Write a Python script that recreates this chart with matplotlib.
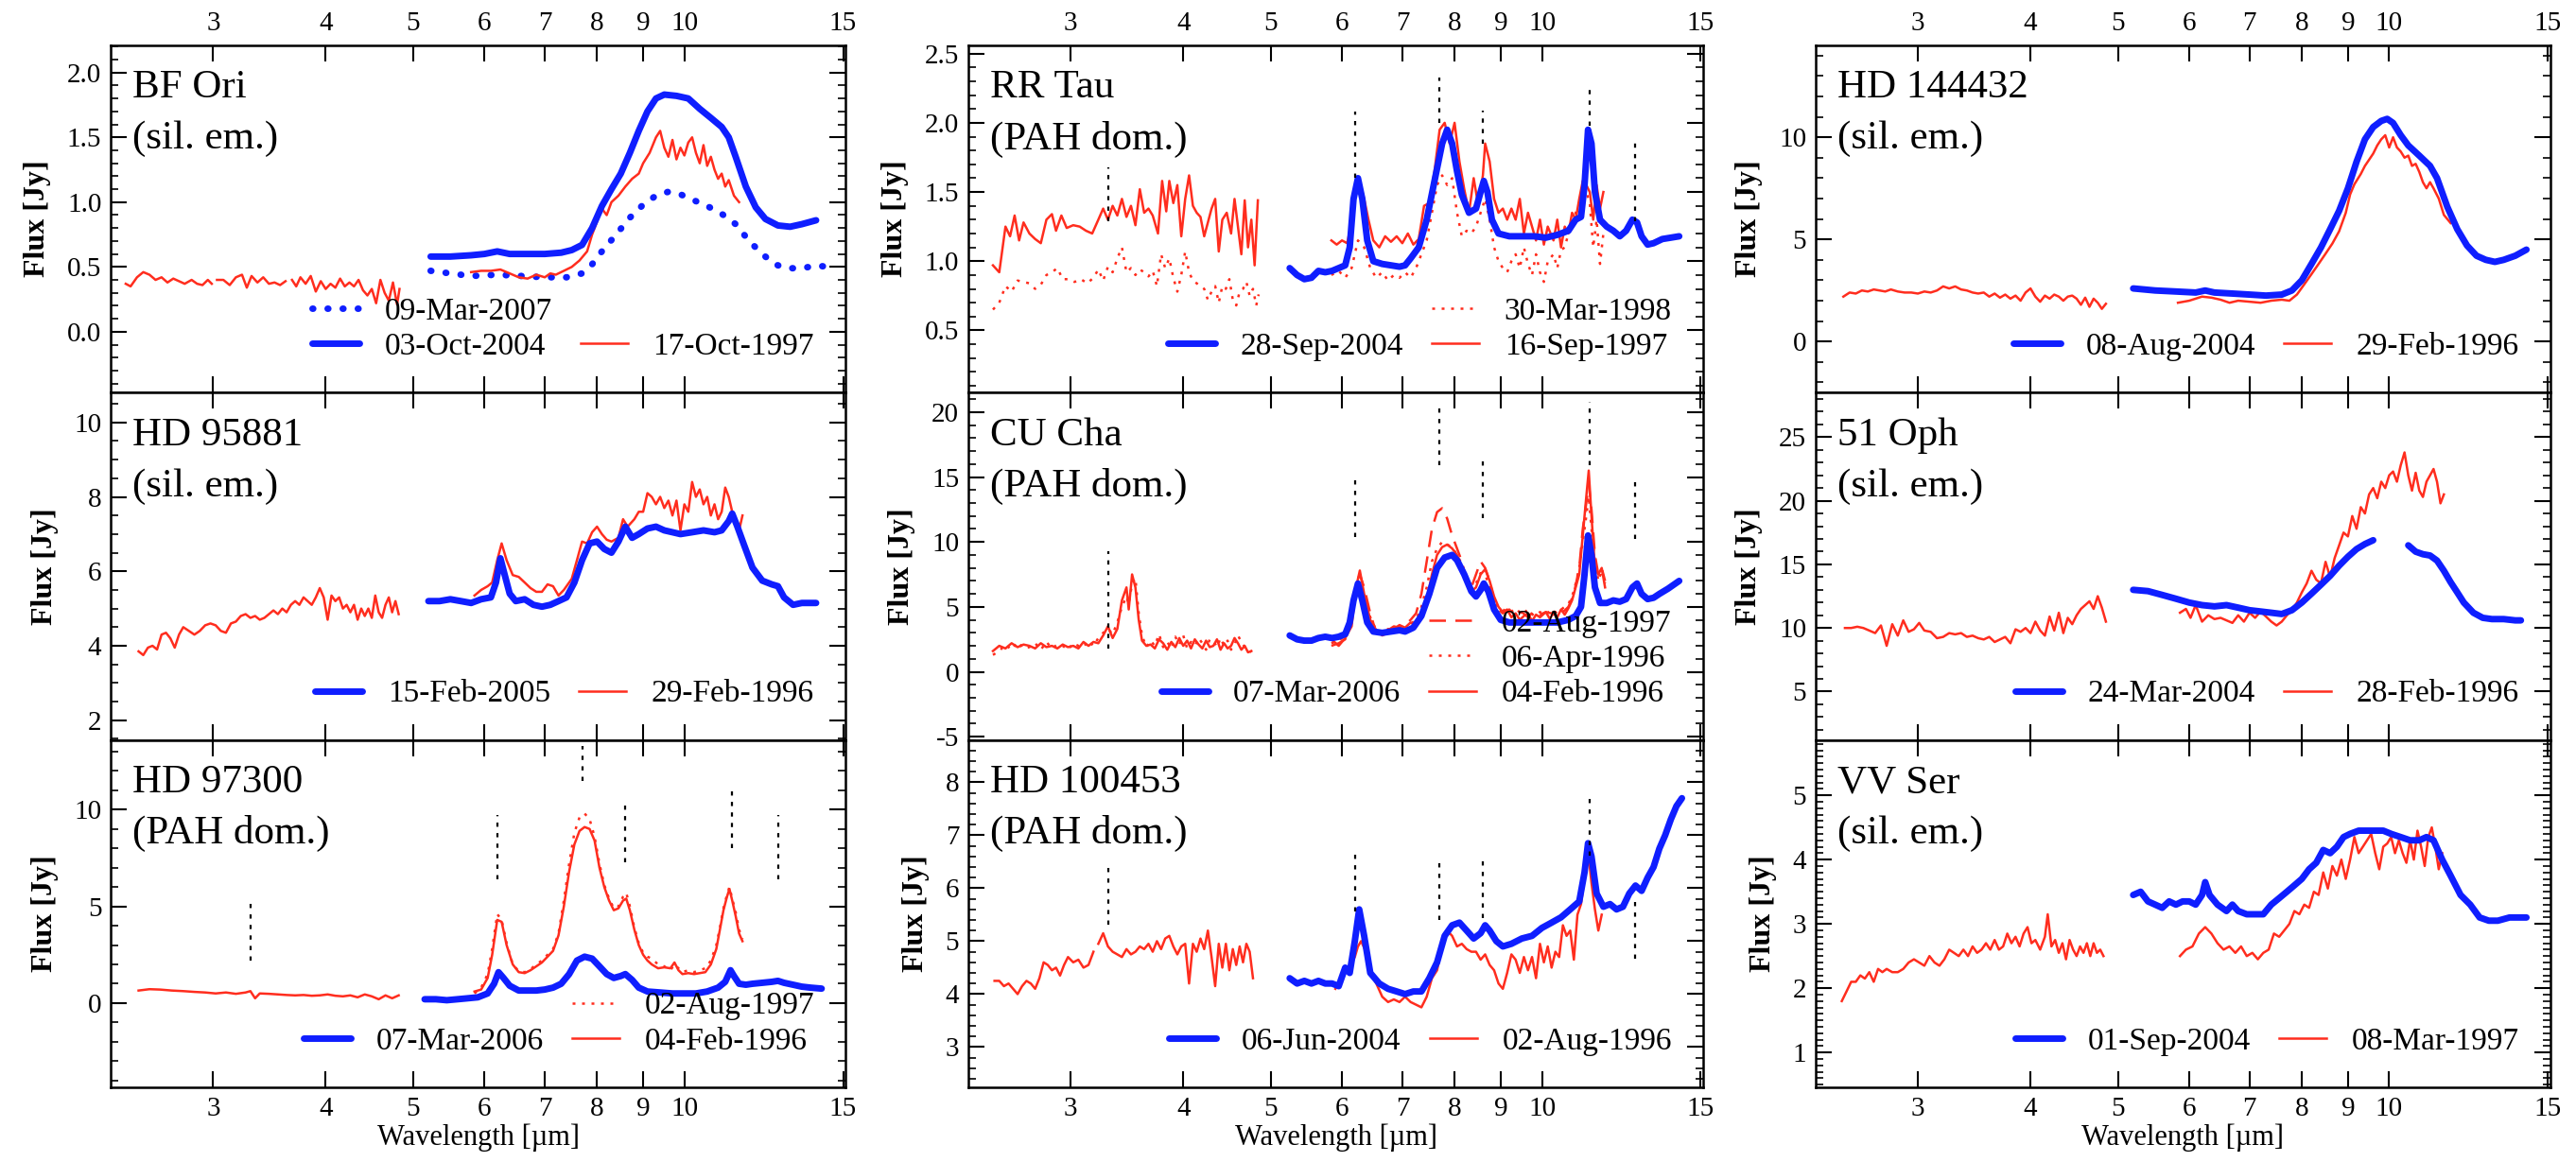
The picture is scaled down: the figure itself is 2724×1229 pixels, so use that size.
"""
Multi-epoch mid-IR spectra, nine targets in a 3x3 grid
"""
import numpy as np
import matplotlib
matplotlib.use('Agg')
import matplotlib.pyplot as plt
from matplotlib.lines import Line2D
from matplotlib.ticker import MultipleLocator, FixedLocator, NullLocator, FormatStrFormatter

plt.rcParams['font.family'] = ['Liberation Serif', 'DejaVu Serif']

nan = np.nan

# ---------------- data (wavelength [um], flux [Jy]) ----------------
x_ticks = [3, 4, 5, 6, 7, 8, 9, 10, 15]

# BF Ori
bfori_1997 = [(2.40, 0.37), (2.43, 0.35), (2.47, 0.42), (2.51, 0.46), (2.55, 0.44), (2.59, 0.40), (2.63, 0.42),
              (2.67, 0.38), (2.71, 0.41), (2.75, 0.39), (2.79, 0.37), (2.84, 0.40), (2.88, 0.37), (2.92, 0.36),
              (2.96, 0.40), (2.99, 0.37), (nan, nan), (3.03, 0.40), (3.08, 0.40), (3.13, 0.36), (3.18, 0.42),
              (3.23, 0.44), (3.27, 0.34), (3.31, 0.43), (3.36, 0.38), (3.41, 0.42), (3.46, 0.37), (3.51, 0.38),
              (3.56, 0.36), (3.61, 0.39), (nan, nan), (3.67, 0.40), (3.71, 0.35), (3.75, 0.42), (3.80, 0.37),
              (3.85, 0.43), (3.90, 0.31), (3.95, 0.39), (4.00, 0.33), (4.05, 0.37), (4.10, 0.34), (4.15, 0.41),
              (4.20, 0.35), (4.25, 0.38), (4.30, 0.35), (4.35, 0.40), (4.40, 0.32), (4.45, 0.28), (4.50, 0.33),
              (4.55, 0.22), (4.60, 0.40), (4.65, 0.30), (4.70, 0.24), (4.75, 0.38), (4.80, 0.21), (4.83, 0.33),
              (nan, nan), (5.80, 0.46), (5.95, 0.47), (6.10, 0.47), (6.25, 0.48), (6.40, 0.45), (6.55, 0.42),
              (6.70, 0.41), (6.85, 0.44), (7.00, 0.42), (7.10, 0.45), (7.20, 0.44), (7.35, 0.47), (7.50, 0.50),
              (7.65, 0.55), (7.80, 0.62), (7.90, 0.75), (8.00, 0.85), (8.10, 0.95), (8.20, 0.90), (8.30, 1.00),
              (8.45, 1.05), (8.60, 1.12), (8.75, 1.18), (8.90, 1.22), (9.00, 1.30), (9.15, 1.38), (9.30, 1.50),
              (9.40, 1.55), (9.50, 1.42), (9.60, 1.35), (9.70, 1.48), (9.80, 1.33), (9.90, 1.42), (10.0, 1.36),
              (10.1, 1.46), (10.2, 1.50), (10.3, 1.38), (10.4, 1.30), (10.5, 1.44), (10.6, 1.28), (10.7, 1.35),
              (10.8, 1.25), (10.9, 1.18), (11.0, 1.22), (11.1, 1.12), (11.2, 1.17), (11.35, 1.05), (11.5, 1.00)]
bfori_2004 = [(5.23, 0.58), (5.5, 0.58), (5.8, 0.59), (6.0, 0.60), (6.2, 0.62), (6.4, 0.60), (6.7, 0.60),
              (7.0, 0.60), (7.3, 0.61), (7.5, 0.63), (7.7, 0.67), (7.9, 0.80), (8.1, 0.97), (8.3, 1.10),
              (8.5, 1.22), (8.7, 1.38), (8.9, 1.55), (9.1, 1.70), (9.3, 1.80), (9.5, 1.83), (9.8, 1.82),
              (10.1, 1.80), (10.4, 1.72), (10.7, 1.65), (11.0, 1.58), (11.2, 1.50), (11.4, 1.35), (11.7, 1.12),
              (12.0, 0.96), (12.3, 0.87), (12.7, 0.82), (13.1, 0.81), (13.5, 0.83), (14.0, 0.86)]
bfori_2007 = [(5.23, 0.47), (5.5, 0.45), (5.8, 0.43), (6.2, 0.44), (6.6, 0.43), (7.0, 0.42), (7.4, 0.42),
              (7.7, 0.45), (7.9, 0.52), (8.1, 0.62), (8.4, 0.75), (8.7, 0.88), (9.0, 0.98), (9.3, 1.05),
              (9.6, 1.08), (9.9, 1.06), (10.2, 1.02), (10.6, 0.97), (11.0, 0.91), (11.4, 0.83), (11.8, 0.70),
              (12.2, 0.60), (12.6, 0.52), (13.0, 0.49), (13.5, 0.49), (14.0, 0.51), (14.5, 0.50)]

# RR Tau
rrtau_1997 = [(2.46, 0.97), (2.50, 0.92), (2.54, 1.25), (2.57, 1.18), (2.60, 1.33), (2.63, 1.15), (2.66, 1.28),
              (2.70, 1.20), (2.74, 1.16), (2.78, 1.13), (2.82, 1.30), (2.86, 1.34), (2.89, 1.22), (2.93, 1.33),
              (2.97, 1.24), (3.02, 1.26), (3.07, 1.25), (3.12, 1.22), (3.17, 1.20), (3.22, 1.30), (3.26, 1.38),
              (3.30, 1.30), (3.34, 1.40), (3.38, 1.33), (3.42, 1.45), (3.46, 1.32), (3.50, 1.40), (3.54, 1.26),
              (3.58, 1.52), (3.62, 1.35), (3.66, 1.38), (3.70, 1.33), (3.75, 1.20), (3.79, 1.58), (3.83, 1.36),
              (3.86, 1.58), (3.90, 1.42), (3.94, 1.55), (3.98, 1.18), (4.02, 1.45), (4.06, 1.62), (4.10, 1.40),
              (4.14, 1.35), (4.18, 1.32), (4.22, 1.18), (4.26, 1.28), (4.30, 1.38), (4.34, 1.45), (4.38, 1.07),
              (4.42, 1.30), (4.47, 1.35), (4.52, 1.20), (4.56, 1.45), (4.60, 1.25), (4.64, 1.05), (4.68, 1.44),
              (4.72, 1.10), (4.76, 1.30), (4.80, 0.97), (4.84, 1.44),
              (nan, nan), (5.84, 1.15), (5.92, 1.12), (6.0, 1.15), (6.08, 1.13), (6.15, 1.28), (6.22, 1.50),
              (6.28, 1.57), (6.35, 1.45), (6.42, 1.30), (6.5, 1.15), (6.6, 1.10), (6.7, 1.18), (6.8, 1.14),
              (6.9, 1.18), (7.0, 1.13), (7.1, 1.20), (7.2, 1.12), (7.3, 1.16), (7.4, 1.40), (7.5, 1.42),
              (7.6, 1.65), (7.7, 1.95), (7.8, 2.00), (7.9, 1.85), (8.0, 2.00), (8.1, 1.72), (8.2, 1.52),
              (8.3, 1.35), (8.4, 1.60), (8.5, 1.40), (8.6, 1.62), (8.65, 1.85), (8.75, 1.72), (8.85, 1.45),
              (8.95, 1.35), (9.05, 1.38), (9.15, 1.30), (9.25, 1.38), (9.35, 1.30), (9.45, 1.45), (9.55, 1.20),
              (9.65, 1.35), (9.75, 1.25), (9.85, 1.15), (9.95, 1.30), (10.05, 1.12), (10.15, 1.25), (10.3, 1.15),
              (10.4, 1.30), (10.5, 1.10), (10.6, 1.25), (10.7, 1.20), (10.8, 1.35), (10.9, 1.30), (11.0, 1.45),
              (11.1, 1.58), (11.2, 1.55), (11.3, 1.50), (11.4, 1.30), (11.5, 1.55), (11.6, 1.38), (11.7, 1.50)]
rrtau_1998 = [(2.46, 0.65), (2.50, 0.70), (2.54, 0.82), (2.58, 0.78), (2.62, 0.86), (2.66, 0.85), (2.70, 0.84),
              (2.74, 0.80), (2.78, 0.83), (2.82, 0.90), (2.86, 0.92), (2.90, 0.95), (2.94, 0.87), (2.98, 0.87),
              (3.03, 0.85), (3.08, 0.87), (3.13, 0.84), (3.18, 0.88), (3.22, 0.94), (3.26, 0.86), (3.30, 0.96),
              (3.34, 0.92), (3.38, 1.02), (3.42, 1.10), (3.46, 0.92), (3.50, 0.95), (3.54, 0.90), (3.58, 0.94),
              (3.62, 0.92), (3.66, 0.89), (3.70, 0.93), (3.74, 0.82), (3.78, 1.05), (3.82, 0.95), (3.86, 1.02),
              (3.90, 0.88), (3.94, 0.78), (3.98, 0.90), (4.02, 1.07), (4.06, 0.92), (4.10, 0.86), (4.14, 0.84),
              (4.18, 0.82), (4.22, 0.80), (4.26, 0.72), (4.30, 0.78), (4.34, 0.82), (4.38, 0.70), (4.42, 0.82),
              (4.46, 0.80), (4.50, 0.87), (4.54, 0.72), (4.58, 0.68), (4.62, 0.78), (4.66, 0.80), (4.70, 0.85),
              (4.74, 0.75), (4.78, 0.80), (4.82, 0.68), (4.85, 0.76),
              (nan, nan), (5.84, 0.90), (5.95, 0.93), (6.05, 0.88), (6.15, 0.95), (6.25, 1.15), (6.35, 1.10),
              (6.45, 0.95), (6.55, 0.88), (6.65, 0.92), (6.75, 0.86), (6.85, 0.90), (6.95, 0.88), (7.05, 0.92),
              (7.15, 0.88), (7.25, 0.95), (7.35, 1.05), (7.45, 1.15), (7.55, 1.35), (7.65, 1.55), (7.75, 1.62),
              (7.85, 1.55), (7.95, 1.60), (8.05, 1.35), (8.15, 1.18), (8.25, 1.22), (8.35, 1.20), (8.45, 1.25),
              (8.55, 1.35), (8.65, 1.45), (8.75, 1.30), (8.85, 1.10), (8.95, 1.00), (9.05, 0.95), (9.15, 0.92),
              (9.25, 1.00), (9.35, 1.05), (9.45, 0.95), (9.55, 1.10), (9.65, 0.98), (9.75, 0.90), (9.85, 1.05),
              (9.95, 0.92), (10.05, 0.85), (10.15, 1.00), (10.3, 1.05), (10.4, 0.95), (10.5, 1.08), (10.6, 1.10),
              (10.7, 1.20), (10.8, 1.25), (10.9, 1.35), (11.0, 1.40), (11.1, 1.45), (11.2, 1.50), (11.3, 1.42),
              (11.4, 1.10), (11.5, 1.30), (11.6, 0.98), (11.7, 1.20)]
rrtau_2004 = [(5.25, 0.95), (5.35, 0.90), (5.45, 0.87), (5.55, 0.88), (5.65, 0.93), (5.75, 0.92), (5.85, 0.93),
              (5.95, 0.95), (6.05, 0.97), (6.12, 1.10), (6.18, 1.45), (6.25, 1.60), (6.32, 1.45), (6.40, 1.15),
              (6.50, 1.00), (6.65, 0.98), (6.8, 0.97), (6.95, 0.96), (7.05, 0.97), (7.15, 1.02), (7.3, 1.10),
              (7.45, 1.30), (7.6, 1.58), (7.75, 1.85), (7.85, 1.95), (7.95, 1.85), (8.05, 1.65), (8.15, 1.48),
              (8.3, 1.35), (8.45, 1.38), (8.55, 1.50), (8.62, 1.58), (8.7, 1.50), (8.8, 1.30), (8.95, 1.20),
              (9.2, 1.18), (9.5, 1.18), (9.8, 1.18), (10.1, 1.17), (10.4, 1.19), (10.7, 1.22), (10.9, 1.30),
              (11.05, 1.32), (11.15, 1.55), (11.25, 1.95), (11.35, 1.85), (11.45, 1.50), (11.6, 1.30),
              (11.8, 1.25), (12.0, 1.22), (12.2, 1.18), (12.4, 1.22), (12.6, 1.30), (12.75, 1.28), (12.9, 1.18),
              (13.1, 1.12), (13.3, 1.13), (13.6, 1.16), (13.9, 1.17), (14.2, 1.18)]
rrtau_pah = [(3.3, 1.29, 1.68), (6.2, 1.60, 2.08), (7.7, 2.00, 2.33), (8.6, 1.85, 2.09),
             (11.3, 1.98, 2.28), (12.7, 1.29, 1.86)]

# HD 144432
hd144432_1996 = [(2.48, 2.2), (2.52, 2.4), (2.56, 2.35), (2.60, 2.5), (2.64, 2.45), (2.68, 2.55), (2.72, 2.5),
                 (2.76, 2.45), (2.80, 2.55), (2.85, 2.45), (2.90, 2.4), (2.95, 2.4), (3.0, 2.35), (3.05, 2.45),
                 (3.1, 2.4), (3.15, 2.5), (3.2, 2.7), (3.25, 2.6), (3.3, 2.7), (3.35, 2.55), (3.4, 2.5),
                 (3.45, 2.4), (3.5, 2.35), (3.55, 2.4), (3.6, 2.2), (3.65, 2.35), (3.7, 2.15), (3.75, 2.3),
                 (3.8, 2.1), (3.85, 2.25), (3.9, 2.0), (3.95, 2.4), (4.0, 2.6), (4.05, 2.2), (4.1, 1.95),
                 (4.15, 2.25), (4.2, 2.1), (4.25, 2.3), (4.3, 2.2), (4.35, 2.0), (4.4, 2.2), (4.45, 2.25),
                 (4.5, 2.1), (4.55, 1.8), (4.6, 2.15), (4.65, 1.7), (4.7, 2.1), (4.75, 1.9), (4.8, 1.6),
                 (4.85, 1.85),
                 (nan, nan), (5.83, 1.9), (6.0, 2.0), (6.2, 2.2), (6.35, 2.15), (6.5, 2.05), (6.65, 1.9),
                 (6.8, 2.0), (7.0, 1.95), (7.2, 1.9), (7.4, 2.0), (7.6, 2.05), (7.75, 2.0), (7.9, 2.3),
                 (8.05, 2.8), (8.2, 3.3), (8.35, 3.8), (8.5, 4.3), (8.65, 4.8), (8.8, 5.4), (8.95, 6.3),
                 (9.05, 7.2), (9.15, 7.7), (9.3, 8.2), (9.4, 8.6), (9.5, 8.9), (9.6, 9.2), (9.7, 9.6),
                 (9.8, 9.9), (9.9, 10.1), (10.0, 9.5), (10.1, 10.0), (10.2, 9.5), (10.3, 9.3), (10.4, 9.0),
                 (10.5, 9.1), (10.6, 8.6), (10.7, 8.7), (10.8, 8.3), (10.9, 7.8), (11.0, 7.5), (11.1, 7.8),
                 (11.2, 7.5), (11.35, 7.0), (11.5, 6.2), (11.7, 5.8)]
hd144432_2004 = [(5.2, 2.6), (5.5, 2.5), (5.8, 2.45), (6.1, 2.4), (6.25, 2.5), (6.4, 2.4), (6.7, 2.35),
                 (7.0, 2.3), (7.3, 2.25), (7.6, 2.3), (7.8, 2.5), (8.0, 3.0), (8.2, 3.8), (8.4, 4.6),
                 (8.6, 5.5), (8.8, 6.4), (9.0, 7.5), (9.2, 8.8), (9.4, 9.9), (9.6, 10.5), (9.8, 10.8),
                 (9.95, 10.9), (10.1, 10.7), (10.3, 10.1), (10.5, 9.6), (10.8, 9.1), (11.1, 8.6), (11.3, 8.0),
                 (11.6, 6.6), (11.9, 5.5), (12.2, 4.7), (12.5, 4.2), (12.8, 4.0), (13.1, 3.9), (13.4, 4.0),
                 (13.8, 4.2), (14.2, 4.5)]

# HD 95881
hd95881_1996 = [(2.48, 3.85), (2.51, 3.75), (2.54, 3.95), (2.57, 4.0), (2.60, 3.9), (2.63, 4.3), (2.66, 4.35),
                (2.69, 4.2), (2.72, 3.95), (2.75, 4.3), (2.78, 4.5), (2.82, 4.4), (2.86, 4.3), (2.90, 4.4),
                (2.94, 4.55), (2.98, 4.6), (3.02, 4.55), (3.06, 4.4), (3.10, 4.35), (3.14, 4.6), (3.18, 4.65),
                (3.22, 4.8), (3.26, 4.85), (3.30, 4.75), (3.34, 4.8), (3.38, 4.7), (3.42, 4.75), (3.46, 4.85),
                (3.50, 4.95), (3.54, 4.85), (3.58, 5.0), (3.62, 4.9), (3.66, 5.1), (3.70, 5.2), (3.74, 5.1),
                (3.78, 5.3), (3.82, 5.2), (3.86, 5.1), (3.90, 5.3), (3.94, 5.55), (3.98, 5.3), (4.02, 4.7),
                (4.06, 5.35), (4.10, 5.2), (4.14, 5.3), (4.18, 5.0), (4.22, 5.1), (4.26, 4.9), (4.30, 5.1),
                (4.34, 4.7), (4.38, 5.0), (4.42, 4.8), (4.46, 5.0), (4.50, 4.75), (4.54, 5.35), (4.58, 4.9),
                (4.62, 4.75), (4.66, 5.1), (4.70, 5.3), (4.74, 4.9), (4.78, 5.2), (4.82, 4.85),
                (nan, nan), (5.85, 5.35), (5.95, 5.5), (6.05, 5.6), (6.12, 5.7), (6.2, 6.3), (6.27, 6.75),
                (6.35, 6.3), (6.45, 5.9), (6.55, 5.85), (6.65, 5.7), (6.75, 5.55), (6.85, 5.45), (6.95, 5.45),
                (7.05, 5.65), (7.15, 5.6), (7.25, 5.35), (7.35, 5.5), (7.5, 5.8), (7.6, 6.3), (7.7, 6.8),
                (7.8, 6.75), (7.9, 7.05), (8.0, 7.2), (8.1, 7.0), (8.2, 6.85), (8.3, 6.8), (8.45, 6.9),
                (8.55, 7.4), (8.65, 7.2), (8.8, 7.4), (8.9, 7.6), (9.0, 7.6), (9.1, 8.1), (9.2, 8.0),
                (9.3, 7.8), (9.4, 8.0), (9.5, 7.7), (9.6, 7.9), (9.7, 7.5), (9.8, 7.9), (9.9, 7.1),
                (10.0, 7.8), (10.1, 7.6), (10.2, 8.4), (10.3, 8.0), (10.4, 8.2), (10.5, 7.8), (10.6, 8.0),
                (10.7, 7.5), (10.8, 7.8), (10.9, 7.4), (11.0, 7.6), (11.1, 8.25), (11.2, 8.0), (11.35, 7.4),
                (11.5, 7.1), (11.6, 7.5)]
hd95881_2005 = [(5.2, 5.2), (5.35, 5.2), (5.5, 5.25), (5.65, 5.2), (5.8, 5.15), (5.95, 5.25), (6.1, 5.3),
                (6.18, 5.7), (6.25, 6.35), (6.32, 5.9), (6.4, 5.4), (6.5, 5.2), (6.65, 5.25), (6.8, 5.1),
                (6.95, 5.05), (7.1, 5.1), (7.25, 5.2), (7.4, 5.3), (7.55, 5.7), (7.7, 6.3), (7.85, 6.75),
                (8.0, 6.8), (8.15, 6.6), (8.3, 6.5), (8.45, 6.8), (8.6, 7.2), (8.75, 6.9), (8.9, 7.0),
                (9.1, 7.15), (9.3, 7.2), (9.5, 7.1), (9.7, 7.05), (9.9, 7.0), (10.2, 7.05), (10.5, 7.1),
                (10.8, 7.05), (11.0, 7.1), (11.2, 7.35), (11.3, 7.55), (11.45, 7.2), (11.65, 6.7), (11.9, 6.1),
                (12.2, 5.75), (12.5, 5.65), (12.7, 5.6), (12.9, 5.3), (13.2, 5.1), (13.5, 5.15), (13.8, 5.15),
                (14.0, 5.15)]

# CU Cha
cucha_feb96 = [(2.46, 1.6), (2.50, 2.0), (2.54, 1.8), (2.58, 2.2), (2.62, 1.9), (2.66, 2.1), (2.70, 2.0),
               (2.74, 1.8), (2.78, 2.2), (2.82, 1.9), (2.86, 2.0), (2.90, 1.8), (2.94, 2.1), (2.98, 1.9),
               (3.02, 2.0), (3.06, 1.8), (3.10, 2.3), (3.14, 2.0), (3.18, 2.3), (3.22, 2.2), (3.26, 2.8),
               (3.30, 3.5), (3.34, 2.6), (3.38, 3.3), (3.42, 5.5), (3.46, 6.5), (3.48, 4.8), (3.51, 7.5),
               (3.54, 6.5), (3.57, 4.0), (3.60, 2.4), (3.64, 2.0), (3.68, 2.1), (3.72, 1.8), (3.76, 2.5),
               (3.80, 2.2), (3.84, 1.7), (3.88, 2.3), (3.92, 1.9), (3.96, 2.6), (4.00, 2.0), (4.04, 2.4),
               (4.08, 1.8), (4.12, 2.5), (4.16, 2.1), (4.20, 1.8), (4.24, 2.4), (4.28, 1.9), (4.32, 2.0),
               (4.36, 2.5), (4.40, 1.7), (4.44, 2.2), (4.48, 1.8), (4.52, 2.0), (4.56, 2.6), (4.60, 2.2),
               (4.64, 1.7), (4.68, 2.0), (4.72, 1.5), (4.76, 1.6),
               (nan, nan), (5.84, 2.5), (5.95, 2.0), (6.05, 2.6), (6.15, 3.5), (6.22, 6.5), (6.28, 7.8),
               (6.35, 6.0), (6.45, 4.0), (6.55, 3.2), (6.65, 2.8), (6.75, 3.0), (6.85, 3.3), (6.95, 3.6),
               (7.05, 3.4), (7.15, 3.8), (7.25, 3.5), (7.35, 4.5), (7.45, 5.5), (7.55, 7.5), (7.65, 9.0),
               (7.75, 9.6), (7.85, 9.8), (7.95, 9.5), (8.05, 9.0), (8.15, 8.0), (8.25, 7.0), (8.35, 6.2),
               (8.45, 6.5), (8.55, 7.5), (8.65, 7.9), (8.75, 7.0), (8.85, 5.8), (8.95, 5.0), (9.05, 4.6),
               (9.15, 4.8), (9.25, 4.2), (9.35, 4.5), (9.45, 4.0), (9.55, 4.3), (9.65, 4.5), (9.75, 3.9),
               (9.85, 4.4), (9.95, 4.2), (10.1, 4.6), (10.2, 4.1), (10.3, 4.5), (10.4, 4.2), (10.5, 4.8),
               (10.6, 4.4), (10.7, 4.9), (10.8, 5.5), (10.9, 6.5), (11.0, 7.5), (11.1, 10.5), (11.2, 13.5),
               (11.27, 15.5), (11.35, 12.0), (11.45, 8.0), (11.55, 7.5), (11.65, 8.0), (11.75, 6.5)]
cucha_apr96 = [(2.46, 1.3), (2.50, 1.6), (2.54, 2.1), (2.58, 1.7), (2.62, 2.3), (2.66, 1.8), (2.70, 1.9),
               (2.74, 2.2), (2.78, 1.7), (2.82, 2.3), (2.86, 1.8), (2.90, 2.1), (2.94, 2.0), (2.98, 1.7),
               (3.02, 2.2), (3.06, 2.0), (3.10, 1.9), (3.14, 2.4), (3.18, 2.0), (3.22, 2.6), (3.26, 3.0),
               (3.30, 3.3), (3.34, 2.9), (3.38, 3.8), (3.42, 5.0), (3.46, 5.8), (3.48, 5.2), (3.51, 6.8),
               (3.54, 7.2), (3.57, 4.5), (3.60, 2.8), (3.64, 1.9), (3.68, 2.4), (3.72, 2.0), (3.76, 2.9),
               (3.80, 1.9), (3.84, 2.3), (3.88, 1.8), (3.92, 2.7), (3.96, 2.1), (4.00, 2.8), (4.04, 1.8),
               (4.08, 2.3), (4.12, 2.0), (4.16, 2.6), (4.20, 2.2), (4.24, 1.7), (4.28, 2.5), (4.32, 2.4),
               (4.36, 1.9), (4.40, 2.6), (4.44, 2.0), (4.48, 2.4), (4.52, 1.7), (4.56, 2.1), (4.60, 2.8),
               (4.64, 2.3), (4.68, 1.9), (4.72, 1.8), (4.76, 1.5),
               (nan, nan), (5.84, 2.2), (5.95, 2.4), (6.05, 2.8), (6.15, 4.5), (6.22, 6.0), (6.28, 6.8),
               (6.35, 6.0), (6.45, 4.2), (6.55, 3.2), (6.65, 3.0), (6.75, 3.3), (6.85, 3.2), (6.95, 3.5),
               (7.05, 3.3), (7.15, 3.7), (7.25, 4.0), (7.35, 5.0), (7.45, 6.5), (7.55, 8.5), (7.65, 9.5),
               (7.75, 10.0), (7.85, 9.8), (7.95, 9.6), (8.05, 9.0), (8.15, 8.3), (8.25, 7.2), (8.35, 6.5),
               (8.45, 6.8), (8.55, 7.6), (8.65, 7.5), (8.75, 6.5), (8.85, 5.5), (8.95, 4.9), (9.05, 4.8),
               (9.2, 4.5), (9.35, 4.9), (9.5, 4.4), (9.65, 4.8), (9.8, 4.3), (9.95, 4.6), (10.1, 4.4),
               (10.25, 4.8), (10.4, 4.5), (10.55, 4.9), (10.7, 5.2), (10.85, 6.2), (11.0, 8.0), (11.1, 10.0),
               (11.2, 12.0), (11.27, 13.5), (11.35, 11.0), (11.45, 8.5), (11.55, 7.0), (11.65, 7.8),
               (11.75, 6.8)]
cucha_aug97 = [(5.84, 2.0), (5.95, 2.2), (6.05, 2.5), (6.15, 4.0), (6.22, 6.8), (6.28, 7.5), (6.35, 6.5),
               (6.45, 4.5), (6.55, 3.0), (6.65, 2.8), (6.75, 3.2), (6.85, 3.5), (6.95, 3.4), (7.05, 3.6),
               (7.15, 4.0), (7.25, 4.5), (7.35, 6.0), (7.45, 8.5), (7.55, 11.0), (7.65, 12.3), (7.75, 12.6),
               (7.85, 11.8), (7.95, 10.5), (8.05, 9.5), (8.15, 8.5), (8.25, 7.0), (8.35, 6.5), (8.45, 7.5),
               (8.55, 8.5), (8.65, 8.0), (8.75, 7.0), (8.85, 5.5), (8.95, 4.8), (9.05, 4.5), (9.2, 4.8),
               (9.35, 4.3), (9.5, 4.6), (9.65, 4.2), (9.8, 4.7), (9.95, 4.4), (10.1, 4.6), (10.25, 4.5),
               (10.4, 4.8), (10.55, 4.6), (10.7, 5.0), (10.85, 6.0), (11.0, 8.0), (11.1, 11.0), (11.2, 13.0),
               (11.27, 14.5), (11.35, 12.5), (11.45, 9.0), (11.55, 7.5), (11.65, 8.0), (11.75, 7.0)]
cucha_2006 = [(5.25, 2.8), (5.35, 2.5), (5.45, 2.4), (5.55, 2.4), (5.65, 2.6), (5.75, 2.7), (5.85, 2.6),
              (5.95, 2.7), (6.05, 2.9), (6.12, 3.8), (6.18, 5.5), (6.25, 6.8), (6.32, 5.5), (6.40, 3.8),
              (6.5, 3.1), (6.65, 3.0), (6.8, 3.1), (6.95, 3.2), (7.05, 3.1), (7.2, 3.4), (7.35, 4.3),
              (7.5, 6.0), (7.65, 8.0), (7.8, 8.8), (7.95, 9.0), (8.05, 8.6), (8.2, 7.5), (8.35, 6.2),
              (8.45, 5.8), (8.55, 6.3), (8.62, 6.8), (8.72, 6.2), (8.85, 4.8), (9.0, 4.0), (9.2, 3.8),
              (9.5, 3.8), (9.8, 3.8), (10.1, 3.8), (10.4, 3.8), (10.7, 4.0), (10.9, 4.3), (11.05, 5.0),
              (11.15, 7.5), (11.25, 10.5), (11.35, 9.0), (11.45, 6.5), (11.6, 5.3), (11.8, 5.3), (12.0, 5.5),
              (12.2, 5.4), (12.4, 5.6), (12.6, 6.5), (12.75, 6.8), (12.9, 6.0), (13.1, 5.6), (13.3, 5.7),
              (13.5, 6.0), (13.8, 6.4), (14.2, 7.0)]
cucha_pah = [(3.3, 1.8, 9.3), (6.2, 10.4, 15.2), (7.7, 15.9, 20.6), (8.6, 11.8, 16.5),
             (11.3, 15.9, 20.8), (12.7, 10.2, 15.0)]

# 51 Oph
oph51_1996 = [(2.49, 10.0), (2.53, 10.0), (2.57, 10.1), (2.61, 10.0), (2.65, 9.8), (2.69, 9.6), (2.73, 10.2),
              (2.77, 8.6), (2.81, 10.3), (2.85, 9.4), (2.89, 10.6), (2.93, 9.7), (2.97, 9.9), (3.01, 10.4),
              (3.05, 9.8), (3.10, 9.7), (3.15, 9.2), (3.20, 9.3), (3.25, 9.6), (3.30, 9.5), (3.35, 9.6),
              (3.40, 9.3), (3.45, 9.4), (3.50, 9.2), (3.55, 9.1), (3.60, 9.3), (3.65, 8.9), (3.70, 9.1),
              (3.75, 9.3), (3.80, 8.8), (3.85, 9.9), (3.90, 9.7), (3.95, 10.0), (4.00, 9.6), (4.05, 10.5),
              (4.10, 9.8), (4.15, 9.4), (4.20, 10.9), (4.25, 9.8), (4.30, 11.2), (4.35, 9.6), (4.40, 10.8),
              (4.45, 10.3), (4.50, 11.0), (4.55, 11.5), (4.60, 11.8), (4.65, 12.1), (4.70, 11.5), (4.75, 12.5),
              (4.80, 11.6), (4.85, 10.5),
              (nan, nan), (5.86, 11.2), (5.95, 11.5), (6.02, 10.8), (6.1, 11.8), (6.2, 10.5), (6.3, 11.0),
              (6.4, 10.7), (6.5, 10.8), (6.6, 10.6), (6.7, 10.4), (6.8, 11.0), (6.9, 10.5), (7.0, 11.2),
              (7.1, 10.8), (7.2, 11.3), (7.3, 10.9), (7.4, 10.5), (7.5, 10.2), (7.6, 10.5), (7.7, 11.0),
              (7.8, 11.4), (7.9, 12.0), (8.0, 12.8), (8.1, 13.5), (8.2, 14.5), (8.3, 13.8), (8.4, 13.5),
              (8.5, 15.2), (8.6, 14.0), (8.7, 15.5), (8.8, 16.5), (8.9, 17.5), (9.0, 17.2), (9.1, 18.8),
              (9.2, 17.8), (9.3, 19.5), (9.4, 19.0), (9.5, 20.5), (9.6, 21.0), (9.7, 20.2), (9.8, 21.5),
              (9.9, 21.0), (10.0, 22.0), (10.1, 22.3), (10.2, 21.5), (10.3, 22.8), (10.4, 23.8), (10.5, 22.0),
              (10.6, 20.8), (10.7, 22.2), (10.8, 20.8), (10.9, 20.3), (11.0, 21.5), (11.1, 22.0), (11.2, 22.5),
              (11.3, 21.5), (11.4, 19.8), (11.5, 20.5)]
oph51_2004 = [(5.2, 13.0), (5.4, 12.9), (5.6, 12.6), (5.8, 12.3), (6.0, 12.0), (6.2, 11.8), (6.4, 11.7),
              (6.6, 11.8), (6.8, 11.6), (7.0, 11.4), (7.2, 11.3), (7.4, 11.2), (7.6, 11.1), (7.8, 11.4),
              (8.0, 12.0), (8.2, 12.7), (8.4, 13.4), (8.6, 14.1), (8.8, 14.9), (9.0, 15.6), (9.2, 16.2),
              (9.4, 16.6), (9.6, 16.9),
              (nan, nan), (10.5, 16.5), (10.7, 16.0), (10.9, 15.8), (11.1, 15.7), (11.3, 15.3), (11.5, 14.5),
              (11.7, 13.6), (11.9, 12.8), (12.1, 12.0), (12.4, 11.2), (12.7, 10.8), (13.0, 10.7), (13.4, 10.7),
              (13.8, 10.6), (14.0, 10.6)]

# HD 97300
hd97300_feb96 = [(2.48, 0.65), (2.55, 0.72), (2.62, 0.70), (2.70, 0.65), (2.78, 0.62), (2.86, 0.58),
                 (2.94, 0.55), (3.02, 0.50), (3.10, 0.55), (3.18, 0.48), (3.26, 0.55), (3.30, 0.62),
                 (3.34, 0.25), (3.38, 0.50), (3.46, 0.48), (3.54, 0.45), (3.62, 0.42), (3.70, 0.40),
                 (3.78, 0.42), (3.86, 0.38), (3.94, 0.40), (4.02, 0.45), (4.10, 0.38), (4.18, 0.35),
                 (4.26, 0.40), (4.34, 0.30), (4.42, 0.45), (4.50, 0.35), (4.58, 0.20), (4.66, 0.40),
                 (4.74, 0.25), (4.82, 0.40),
                 (nan, nan), (5.85, 0.6), (5.95, 0.7), (6.05, 1.3), (6.12, 2.5), (6.2, 4.3), (6.27, 4.2),
                 (6.35, 3.0), (6.45, 2.0), (6.55, 1.6), (6.65, 1.55), (6.75, 1.7), (6.85, 1.9), (6.95, 2.1),
                 (7.05, 2.4), (7.15, 2.7), (7.25, 3.5), (7.35, 5.0), (7.45, 6.8), (7.55, 8.2), (7.65, 8.9),
                 (7.75, 9.1), (7.85, 9.0), (7.95, 8.4), (8.05, 7.0), (8.15, 6.0), (8.25, 5.3), (8.35, 4.8),
                 (8.45, 4.9), (8.55, 5.3), (8.62, 5.4), (8.7, 4.8), (8.8, 3.8), (8.9, 3.0), (9.0, 2.5),
                 (9.1, 2.2), (9.2, 2.0), (9.35, 1.8), (9.5, 1.85), (9.65, 1.8), (9.75, 2.1), (9.85, 1.7),
                 (9.95, 1.5), (10.1, 1.55), (10.25, 1.5), (10.4, 1.55), (10.55, 1.6), (10.7, 2.0), (10.85, 2.8),
                 (10.95, 3.8), (11.05, 4.8), (11.15, 5.5), (11.22, 5.9), (11.3, 5.3), (11.4, 4.5), (11.5, 3.6),
                 (11.6, 3.2)]
hd97300_aug97 = [(5.85, 0.5), (5.95, 0.8), (6.05, 1.5), (6.12, 2.8), (6.2, 4.6), (6.27, 4.3), (6.35, 3.1),
                 (6.45, 2.0), (6.55, 1.65), (6.65, 1.6), (6.75, 1.75), (6.85, 2.0), (6.95, 2.2), (7.05, 2.5),
                 (7.15, 2.8), (7.25, 3.6), (7.35, 5.3), (7.45, 7.2), (7.55, 8.8), (7.65, 9.6), (7.75, 9.8),
                 (7.85, 9.5), (7.95, 8.6), (8.05, 7.2), (8.15, 6.1), (8.25, 5.4), (8.35, 4.9), (8.45, 5.0),
                 (8.55, 5.5), (8.62, 5.7), (8.7, 5.0), (8.8, 3.9), (8.9, 3.1), (9.0, 2.6), (9.1, 2.4),
                 (9.2, 2.3), (9.35, 2.0), (9.5, 1.9), (9.65, 1.7), (9.75, 2.0), (9.85, 1.8), (9.95, 1.6),
                 (10.1, 1.7), (10.25, 1.6), (10.4, 1.7), (10.55, 1.8), (10.7, 2.2), (10.85, 3.0), (10.95, 3.9),
                 (11.05, 4.9), (11.15, 5.6), (11.22, 6.0), (11.3, 5.4), (11.4, 4.7), (11.5, 3.8), (11.6, 3.3)]
hd97300_2006 = [(5.15, 0.2), (5.3, 0.2), (5.45, 0.15), (5.6, 0.2), (5.75, 0.25), (5.9, 0.3), (6.05, 0.5),
                (6.15, 1.0), (6.22, 1.6), (6.3, 1.3), (6.4, 0.9), (6.55, 0.65), (6.7, 0.65), (6.85, 0.65),
                (7.0, 0.7), (7.15, 0.8), (7.3, 1.0), (7.45, 1.5), (7.6, 2.2), (7.75, 2.4), (7.9, 2.3),
                (8.05, 1.9), (8.2, 1.5), (8.35, 1.3), (8.5, 1.4), (8.6, 1.5), (8.75, 1.2), (8.9, 0.8),
                (9.1, 0.6), (9.4, 0.55), (9.7, 0.5), (10.0, 0.5), (10.3, 0.5), (10.6, 0.6), (10.9, 0.8),
                (11.1, 1.1), (11.25, 1.7), (11.35, 1.4), (11.5, 1.0), (11.7, 0.95), (11.9, 1.0), (12.2, 1.05),
                (12.5, 1.1), (12.7, 1.15), (12.9, 1.05), (13.2, 0.95), (13.5, 0.85), (13.8, 0.8), (14.2, 0.75)]
hd97300_pah = [(3.3, 2.2, 5.4), (6.2, 6.4, 9.7), (7.7, 11.5, 13.3), (8.6, 7.3, 10.5),
               (11.3, 8.0, 11.2), (12.7, 6.4, 9.7)]

# HD 100453
hd100453_1996 = [(2.47, 4.25), (2.50, 4.25), (2.53, 4.15), (2.56, 4.2), (2.59, 4.1), (2.62, 4.0), (2.65, 4.15),
                 (2.68, 4.25), (2.71, 4.2), (2.74, 4.1), (2.77, 4.3), (2.80, 4.6), (2.83, 4.55), (2.86, 4.45),
                 (2.89, 4.5), (2.92, 4.35), (2.95, 4.55), (2.98, 4.7), (3.02, 4.6), (3.06, 4.65), (3.10, 4.5),
                 (3.14, 4.55), (3.18, 4.8), (nan, nan), (3.22, 4.95), (3.26, 5.15), (3.30, 4.9), (3.34, 4.8),
                 (3.38, 4.75), (3.42, 4.7), (3.46, 4.85), (3.50, 4.75), (3.54, 4.8), (3.58, 4.9), (3.62, 4.85),
                 (3.66, 4.95), (3.70, 4.8), (3.74, 5.0), (3.78, 4.85), (3.82, 5.05), (3.86, 5.1), (3.90, 4.9),
                 (3.94, 4.75), (3.98, 4.9), (4.02, 4.95), (4.06, 4.2), (4.10, 4.95), (4.14, 4.8), (4.18, 5.05),
                 (4.22, 4.85), (4.26, 5.2), (4.30, 4.7), (4.34, 4.15), (4.38, 4.95), (4.42, 4.5), (4.46, 4.95),
                 (4.50, 4.45), (4.54, 4.85), (4.58, 4.55), (4.62, 4.9), (4.66, 4.6), (4.70, 4.95), (4.74, 4.8),
                 (4.78, 4.3),
                 (nan, nan), (5.9, 4.1), (6.0, 4.3), (6.1, 4.5), (6.2, 4.7), (6.25, 4.9), (6.3, 5.0),
                 (6.38, 4.8), (6.45, 4.4), (6.55, 4.2), (6.65, 3.95), (6.75, 3.85), (6.85, 3.9), (6.95, 3.85),
                 (7.05, 3.95), (7.15, 3.85), (7.25, 3.8), (7.35, 3.75), (7.45, 3.95), (7.55, 4.3), (7.65, 4.45),
                 (7.75, 4.9), (7.85, 5.2), (7.95, 5.1), (8.05, 4.9), (8.15, 4.95), (8.25, 4.85), (8.35, 4.8),
                 (8.45, 4.8), (8.55, 4.65), (8.65, 4.75), (8.75, 4.55), (8.85, 4.45), (8.95, 4.2), (9.05, 4.1),
                 (9.15, 4.4), (9.25, 4.75), (9.35, 4.65), (9.45, 4.4), (9.55, 4.7), (9.65, 4.45), (9.75, 4.7),
                 (9.85, 4.3), (9.95, 4.95), (10.05, 4.6), (10.15, 4.9), (10.25, 4.5), (10.35, 4.8), (10.45, 4.7),
                 (10.55, 5.3), (10.65, 5.1), (10.75, 5.2), (10.85, 4.65), (10.95, 5.5), (11.05, 5.7),
                 (11.15, 6.2), (11.25, 6.7), (11.35, 6.1), (11.45, 5.6), (11.55, 5.2), (11.65, 5.5)]
hd100453_2004 = [(5.25, 4.3), (5.35, 4.2), (5.45, 4.25), (5.55, 4.2), (5.65, 4.25), (5.75, 4.2), (5.85, 4.2),
                 (5.95, 4.15), (6.05, 4.5), (6.12, 4.4), (6.2, 5.0), (6.27, 5.6), (6.35, 5.1), (6.45, 4.4),
                 (6.6, 4.2), (6.75, 4.1), (6.9, 4.05), (7.05, 4.0), (7.2, 4.05), (7.35, 4.05), (7.5, 4.3),
                 (7.65, 4.6), (7.8, 5.1), (7.95, 5.3), (8.1, 5.35), (8.25, 5.2), (8.4, 5.05), (8.55, 5.15),
                 (8.65, 5.3), (8.75, 5.2), (8.9, 5.0), (9.05, 4.9), (9.25, 4.95), (9.5, 5.05), (9.75, 5.1),
                 (10.0, 5.25), (10.25, 5.35), (10.5, 5.45), (10.75, 5.6), (11.0, 5.75), (11.15, 6.3),
                 (11.25, 6.85), (11.35, 6.6), (11.5, 5.9), (11.7, 5.65), (11.9, 5.7), (12.1, 5.6), (12.3, 5.65),
                 (12.5, 5.9), (12.7, 6.05), (12.9, 5.95), (13.1, 6.2), (13.3, 6.4), (13.5, 6.75), (13.7, 7.0),
                 (13.9, 7.3), (14.1, 7.55), (14.3, 7.7)]
hd100453_pah = [(3.3, 5.31, 6.49), (6.2, 5.57, 6.73), (7.7, 5.40, 6.58), (8.6, 5.43, 6.61),
                (11.3, 6.61, 7.79), (12.7, 4.66, 5.84)]

# VV Ser
vvser_1997 = [(2.47, 1.8), (2.50, 1.95), (2.53, 2.1), (2.56, 2.1), (2.59, 2.2), (2.62, 2.15), (2.65, 2.25),
              (2.68, 2.1), (2.71, 2.3), (2.74, 2.25), (2.77, 2.3), (2.81, 2.25), (2.85, 2.25), (2.89, 2.3),
              (2.93, 2.4), (2.97, 2.45), (3.01, 2.4), (3.05, 2.35), (3.09, 2.5), (3.13, 2.4), (3.17, 2.35),
              (3.21, 2.45), (3.25, 2.6), (3.29, 2.55), (3.33, 2.5), (3.37, 2.6), (3.41, 2.5), (3.45, 2.65),
              (3.49, 2.55), (3.53, 2.6), (3.57, 2.7), (3.61, 2.6), (3.65, 2.75), (3.69, 2.6), (3.73, 2.65),
              (3.77, 2.85), (3.81, 2.7), (3.85, 2.8), (3.89, 2.65), (3.93, 2.85), (3.97, 2.95), (4.01, 2.7),
              (4.05, 2.75), (4.10, 2.6), (4.15, 2.8), (4.18, 3.15), (4.22, 2.65), (4.26, 2.75), (4.30, 2.55),
              (4.34, 2.7), (4.38, 2.45), (4.42, 2.75), (4.46, 2.6), (4.50, 2.5), (4.54, 2.65), (4.58, 2.55),
              (4.62, 2.7), (4.66, 2.5), (4.70, 2.7), (4.74, 2.55), (4.78, 2.6), (4.82, 2.5),
              (nan, nan), (5.86, 2.5), (5.95, 2.6), (6.05, 2.65), (6.15, 2.85), (6.25, 2.95), (6.35, 2.85),
              (6.45, 2.7), (6.55, 2.6), (6.65, 2.65), (6.75, 2.55), (6.85, 2.65), (6.95, 2.5), (7.05, 2.55),
              (7.15, 2.45), (7.25, 2.55), (7.35, 2.6), (7.45, 2.85), (7.55, 2.8), (7.65, 2.9), (7.75, 3.0),
              (7.85, 3.2), (7.95, 3.15), (8.05, 3.3), (8.15, 3.25), (8.25, 3.5), (8.35, 3.45), (8.45, 3.8),
              (8.55, 3.55), (8.65, 3.9), (8.75, 3.75), (8.85, 4.0), (8.95, 3.7), (9.05, 4.0), (9.15, 4.35),
              (9.25, 4.1), (9.35, 4.2), (9.45, 4.3), (9.55, 4.4), (9.65, 4.1), (9.75, 3.85), (9.85, 4.2),
              (9.95, 4.25), (10.05, 4.35), (10.15, 4.1), (10.25, 4.3), (10.35, 4.1), (10.45, 3.95),
              (10.55, 4.3), (10.65, 4.0), (10.75, 4.45), (10.85, 4.2), (10.95, 3.9), (11.05, 4.35),
              (11.15, 4.5), (11.25, 4.2), (11.35, 3.85), (11.45, 4.1)]
vvser_2004 = [(5.2, 3.45), (5.3, 3.5), (5.4, 3.35), (5.5, 3.3), (5.6, 3.25), (5.7, 3.35), (5.8, 3.3),
              (5.9, 3.35), (6.0, 3.35), (6.1, 3.3), (6.2, 3.45), (6.25, 3.65), (6.32, 3.45), (6.45, 3.3),
              (6.6, 3.2), (6.7, 3.3), (6.8, 3.2), (6.95, 3.15), (7.1, 3.15), (7.25, 3.15), (7.4, 3.3),
              (7.55, 3.4), (7.7, 3.5), (7.85, 3.6), (8.0, 3.7), (8.15, 3.85), (8.3, 3.95), (8.45, 4.15),
              (8.6, 4.1), (8.75, 4.2), (8.9, 4.35), (9.05, 4.4), (9.25, 4.45), (9.45, 4.45), (9.65, 4.45),
              (9.85, 4.45), (10.05, 4.4), (10.3, 4.35), (10.55, 4.3), (10.8, 4.3), (11.0, 4.35), (11.2, 4.3),
              (11.45, 4.0), (11.7, 3.75), (12.0, 3.45), (12.3, 3.3), (12.6, 3.1), (12.9, 3.05), (13.2, 3.05),
              (13.6, 3.1), (14.0, 3.1), (14.2, 3.1)]

# ---------------- styles ----------------
BLUE = '#0f1eff'
RED = '#ff2d1e'
s_blue = dict(color=BLUE, lw=5.0, solid_capstyle='round')
s_blue_dot = dict(color=BLUE, lw=5.0, linestyle=(0, (0.1, 2.2)), dash_capstyle='round')
s_red = dict(color=RED, lw=1.8)
s_red_dot = dict(color=RED, lw=1.8, linestyle=(0, (1.2, 2.8)))
s_red_dash = dict(color=RED, lw=1.8, linestyle=(0, (7, 4)))

fig = plt.figure(figsize=(27.24, 12.29), dpi=100)

lefts = [0.0430, 0.3759, 0.7048]
width = 0.2853
top = 0.961
row_h = 0.2989

BLANK = (Line2D([], [], color='none'), '')


def make_panel(col, row, series, name, kind, ylim, major, minor, fmt, legend_cols, pah=None):
    ax = fig.add_axes([lefts[col], top - (row + 1) * row_h, width, row_h])
    handles = {}
    for key, arr, style in series:
        d = np.array(arr, dtype=float)
        line, = ax.plot(d[:, 0], d[:, 1], **style)
        handles[key] = line
    if pah:
        for x, y0, y1 in pah:
            ax.vlines(x, y0, y1, colors='k', linestyles=(0, (2, 3)), lw=1.6)

    ax.set_xscale('log')
    ax.set_xlim(2.31, 15.1)
    ax.set_ylim(*ylim)
    ax.xaxis.set_major_locator(FixedLocator(x_ticks))
    ax.xaxis.set_minor_locator(NullLocator())
    ax.set_xticklabels([str(t) for t in x_ticks])
    ax.yaxis.set_major_locator(MultipleLocator(major))
    ax.yaxis.set_minor_locator(MultipleLocator(minor))
    ax.yaxis.set_major_formatter(FormatStrFormatter(fmt))

    ax.tick_params(which='both', direction='in', top=True, right=True, labelsize=21, pad=7)
    ax.tick_params(which='major', length=12, width=1.5)
    ax.tick_params(which='minor', length=6, width=1.2)
    ax.tick_params(axis='x', labeltop=(row == 0), labelbottom=(row == 2))
    for sp in ax.spines.values():
        sp.set_linewidth(1.8)

    ax.set_ylabel('Flux [Jy]', fontsize=23, fontweight='bold', labelpad=12)
    if row == 2:
        ax.set_xlabel('Wavelength [µm]', fontsize=22, labelpad=2)

    ax.text(0.03, 0.877, name, transform=ax.transAxes, fontsize=31, va='center', ha='left')
    ax.text(0.03, 0.73, kind, transform=ax.transAxes, fontsize=31, va='center', ha='left')

    c1, c2 = legend_cols
    n = max(len(c1), len(c2))
    c1 = [None] * (n - len(c1)) + c1
    c2 = [None] * (n - len(c2)) + c2
    hs, ls = [], []
    for entry in c1 + c2:
        if entry is None:
            hs.append(BLANK[0]); ls.append(BLANK[1])
        else:
            hs.append(handles[entry[0]]); ls.append(entry[1])
    ax.legend(hs, ls, loc='lower right', ncol=2, frameon=False, fontsize=24,
              handlelength=1.5, handletextpad=0.8, columnspacing=0.9,
              labelspacing=0.2, borderaxespad=0.6)
    return ax


make_panel(0, 0, [('a', bfori_2007, s_blue_dot), ('b', bfori_1997, s_red), ('c', bfori_2004, s_blue)],
           'BF Ori', '(sil. em.)', (-0.47, 2.21), 0.5, 0.1, '%.1f',
           ([('a', '09-Mar-2007'), ('c', '03-Oct-2004')], [('b', '17-Oct-1997')]))

make_panel(1, 0, [('a', rrtau_1998, s_red_dot), ('b', rrtau_1997, s_red), ('c', rrtau_2004, s_blue)],
           'RR Tau', '(PAH dom.)', (0.05, 2.56), 0.5, 0.1, '%.1f',
           ([('c', '28-Sep-2004')], [('a', '30-Mar-1998'), ('b', '16-Sep-1997')]), pah=rrtau_pah)

make_panel(2, 0, [('b', hd144432_1996, s_red), ('c', hd144432_2004, s_blue)],
           'HD 144432', '(sil. em.)', (-2.5, 14.5), 5, 1, '%d',
           ([('c', '08-Aug-2004')], [('b', '29-Feb-1996')]))

make_panel(0, 1, [('b', hd95881_1996, s_red), ('c', hd95881_2005, s_blue)],
           'HD 95881', '(sil. em.)', (1.47, 10.8), 2, 0.5, '%d',
           ([('c', '15-Feb-2005')], [('b', '29-Feb-1996')]))

make_panel(1, 1, [('d', cucha_aug97, s_red_dash), ('a', cucha_apr96, s_red_dot), ('b', cucha_feb96, s_red),
                  ('c', cucha_2006, s_blue)],
           'CU Cha', '(PAH dom.)', (-5.25, 21.5), 5, 1, '%d',
           ([('c', '07-Mar-2006')], [('d', '02-Aug-1997'), ('a', '06-Apr-1996'), ('b', '04-Feb-1996')]),
           pah=cucha_pah)

make_panel(2, 1, [('b', oph51_1996, s_red), ('c', oph51_2004, s_blue)],
           '51 Oph', '(sil. em.)', (1.2, 28.5), 5, 1, '%d',
           ([('c', '24-Mar-2004')], [('b', '28-Feb-1996')]))

make_panel(0, 2, [('a', hd97300_aug97, s_red_dot), ('b', hd97300_feb96, s_red), ('c', hd97300_2006, s_blue)],
           'HD 97300', '(PAH dom.)', (-4.35, 13.6), 5, 1, '%d',
           ([('c', '07-Mar-2006')], [('a', '02-Aug-1997'), ('b', '04-Feb-1996')]), pah=hd97300_pah)

make_panel(1, 2, [('b', hd100453_1996, s_red), ('c', hd100453_2004, s_blue)],
           'HD 100453', '(PAH dom.)', (2.24, 8.8), 1, 0.2, '%d',
           ([('c', '06-Jun-2004')], [('b', '02-Aug-1996')]), pah=hd100453_pah)

make_panel(2, 2, [('b', vvser_1997, s_red), ('c', vvser_2004, s_blue)],
           'VV Ser', '(sil. em.)', (0.46, 5.86), 1, 0.1, '%d',
           ([('c', '01-Sep-2004')], [('b', '08-Mar-1997')]))

fig.savefig('out.png', dpi=100, facecolor='white')
